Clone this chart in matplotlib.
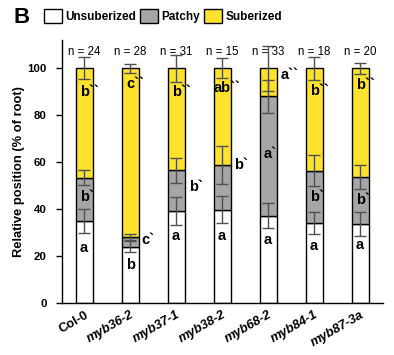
import matplotlib
matplotlib.use("Agg")
import matplotlib.pyplot as plt
from matplotlib.patches import Patch
import numpy as np

plt.rcParams['font.family'] = ['Liberation Sans', 'DejaVu Sans']

# ---- data ----
categories = ['Col-0', 'myb36-2', 'myb37-1', 'myb38-2', 'myb68-2', 'myb84-1', 'myb87-3a']
unsuberized = [35.0, 24.1, 39.3, 39.8, 37.2, 34.3, 33.9]
patchy = [18.4, 4.2, 17.3, 19.1, 50.9, 22.1, 19.9]
suberized = [100 - u - p for u, p in zip(unsuberized, patchy)]
err_unsub = [5.2, 2.5, 6.0, 5.7, 5.3, 4.7, 5.1]
err_patchy = [3.1, 1.3, 5.3, 8.1, 7.1, 6.6, 5.0]
err_sub = [4.6, 2.0, 5.7, 4.2, 9.7, 4.8, 2.3]
n_counts = [24, 28, 31, 15, 33, 18, 20]
letters_unsub = ['a', 'b', 'a', 'a', 'a', 'a', 'a']
letters_patchy = ['b', 'c', 'b', 'b', 'a', 'b', 'b']
letters_sub = ['b', 'c', 'b', 'ab', 'a', 'b', 'b']

# ---- layout of letter annotations (y in data units, x offset in bar units) ----
pos_unsub = [(0, 23.4), (0, 16.1), (0, 28.5), (0, 28.5), (0, 26.8), (0, 24.2), (0, 24.9)]
pos_patchy = [(0, 45.1), (0.38, 27.0), (0.42, 49.5), (0.40, 58.9), (0, 63.7), (0, 45.1), (0, 44.0)]
pos_sub = [(0, 89.7), (0, 93.3), (0, 89.7), (0, 91.5), (0.47, 97.2), (0, 90.2), (0, 92.8)]

col_white = '#FFFFFF'
col_gray = '#A6A6A6'
col_yellow = '#FFE22B'
err_col = '#505050'

fig = plt.figure(figsize=(3.94, 3.55), dpi=100)
ax = fig.add_axes([0.157, 0.146, 0.815, 0.741])

x = np.arange(len(categories))
w = 0.38
u = np.array(unsuberized)
p = np.array(patchy)
s = np.array(suberized)

ax.bar(x, u, w, color=col_white, edgecolor='black', linewidth=1.0, zorder=2)
ax.bar(x, p, w, bottom=u, color=col_gray, edgecolor='black', linewidth=1.0, zorder=2)
ax.bar(x, s, w, bottom=u + p, color=col_yellow, edgecolor='black', linewidth=1.0, zorder=2)

ekw = dict(fmt='none', ecolor=err_col, elinewidth=1.0, capsize=4.5, capthick=1.0, zorder=3)
ax.errorbar(x, u, yerr=err_unsub, **ekw)
ax.errorbar(x, u + p, yerr=err_patchy, **ekw)
ax.errorbar(x, u + p + s, yerr=err_sub, **ekw)

fs_letter = 10.5


def put_letter(xc, yc, base, marks, centered):
    if centered:
        # centre the base letters on the bar, marks hang to the right
        ax.annotate(base + marks, (xc, yc), xytext=(-len(base) * 3.1, 0),
                    textcoords='offset points', ha='left', va='center',
                    fontsize=fs_letter, fontweight='bold', zorder=4)
    else:
        ax.text(xc, yc, base + marks, ha='center', va='center', fontsize=fs_letter,
                fontweight='bold', zorder=4)


for i in range(len(categories)):
    dx, yy = pos_unsub[i]
    put_letter(x[i] + dx, yy, letters_unsub[i], '', dx == 0)
    dx, yy = pos_patchy[i]
    put_letter(x[i] + dx, yy, letters_patchy[i], '`', dx == 0)
    dx, yy = pos_sub[i]
    put_letter(x[i] + dx, yy, letters_sub[i], '``', dx == 0)
    ax.text(x[i], 106.9, f'n = {n_counts[i]}', ha='center', va='center', fontsize=8.3)

ax.set_xlim(-0.49, 6.49)
ax.set_ylim(0, 112)
ax.set_yticks([0, 20, 40, 60, 80, 100])
ax.set_yticklabels(['0', '20', '40', '60', '80', '100'], fontweight='bold', fontsize=8.2)
ax.tick_params(axis='y', length=4, width=1.0, pad=7)
ax.tick_params(axis='x', length=0, pad=4)
ax.set_xticks(x)
ax.set_xticklabels(categories, rotation=30, ha='right', rotation_mode='anchor',
                   fontweight='bold', fontsize=9.3)
for lbl in ax.get_xticklabels()[1:]:
    lbl.set_fontstyle('italic')
ax.spines['top'].set_visible(False)
ax.spines['right'].set_visible(False)
ax.spines['left'].set_linewidth(1.0)
ax.spines['bottom'].set_linewidth(1.0)
ax.set_ylabel('Relative position (% of root)', fontweight='bold', fontsize=9.3, labelpad=1.5)

handles = [Patch(facecolor=col_white, edgecolor='black', linewidth=1.0),
           Patch(facecolor=col_gray, edgecolor='black', linewidth=1.0),
           Patch(facecolor=col_yellow, edgecolor='black', linewidth=1.0)]
fig.legend(handles, ['Unsuberized', 'Patchy', 'Suberized'], loc='center left',
           bbox_to_anchor=(0.112, 0.955), ncol=3, frameon=False,
           prop={'weight': 'bold', 'size': 8.5}, handlelength=1.5, handleheight=1.4,
           handletextpad=0.3, columnspacing=0.35, borderaxespad=0, borderpad=0)

fig.text(0.035, 0.952, 'B', fontsize=16, fontweight='bold', ha='left', va='center')

fig.savefig('out.png', dpi=100)
